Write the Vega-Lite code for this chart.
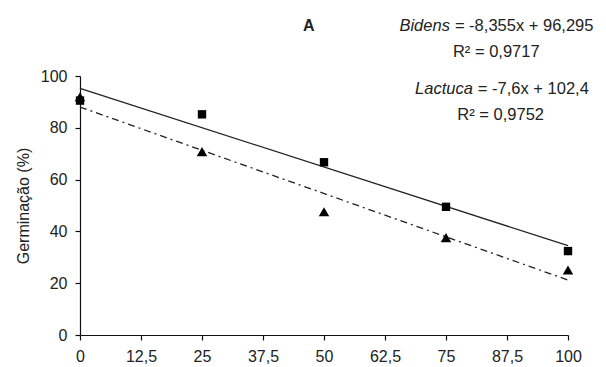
{
  "$schema": "https://vega.github.io/schema/vega-lite/v6.json",
  "width": 488,
  "height": 259,
  "autosize": "none",
  "padding": {"left": 80, "top": 76, "right": 38, "bottom": 32},
  "background": "white",
  "config": {
    "font": "Liberation Sans",
    "view": {"stroke": null},
    "axis": {
      "grid": false,
      "domainColor": "#111",
      "tickColor": "#111",
      "labelColor": "#222",
      "titleColor": "#222",
      "labelFont": "Liberation Sans",
      "titleFont": "Liberation Sans",
      "labelFontSize": 16,
      "titleFontSize": 16,
      "titleFontWeight": "normal",
      "tickSize": 5,
      "domainWidth": 1.2,
      "tickWidth": 1.2
    }
  },
  "datasets": {
    "germ": [
      {"species": "Bidens", "conc": 0, "germ": 90.5},
      {"species": "Bidens", "conc": 25, "germ": 85.2},
      {"species": "Bidens", "conc": 50, "germ": 66.7},
      {"species": "Bidens", "conc": 75, "germ": 49.5},
      {"species": "Bidens", "conc": 100, "germ": 32.4},
      {"species": "Lactuca", "conc": 0, "germ": 92.0},
      {"species": "Lactuca", "conc": 25, "germ": 70.8},
      {"species": "Lactuca", "conc": 50, "germ": 47.6},
      {"species": "Lactuca", "conc": 75, "germ": 37.6},
      {"species": "Lactuca", "conc": 100, "germ": 25.1}
    ],
    "notes": [
      {"part": "panel", "t": "A", "conc": 46.9, "germ": 119.4},
      {"part": "name", "t": "Bidens", "conc": 75.8, "germ": 119.4},
      {"part": "eq", "t": "= -8,355x + 96,295", "conc": 75.8, "germ": 119.4},
      {"part": "r2", "t": "R² = 0,9717", "conc": 85.3, "germ": 109.2},
      {"part": "name", "t": "Lactuca", "conc": 80.5, "germ": 95.0},
      {"part": "eq", "t": "= -7,6x + 102,4", "conc": 80.5, "germ": 95.0},
      {"part": "r2", "t": "R² = 0,9752", "conc": 86.2, "germ": 85.0}
    ]
  },
  "data": {"name": "germ"},
  "encoding": {
    "x": {
      "field": "conc",
      "type": "quantitative",
      "scale": {"domain": [0, 100], "nice": false},
      "axis": {
        "title": null,
        "values": [0, 12.5, 25, 37.5, 50, 62.5, 75, 87.5, 100],
        "labelExpr": "replace(toString(datum.value), '.', ',')",
        "labelPadding": 8,
        "labelFlush": false
      }
    },
    "y": {
      "field": "germ",
      "type": "quantitative",
      "scale": {"domain": [0, 100], "nice": false},
      "axis": {
        "title": "Germinação (%)",
        "values": [0, 20, 40, 60, 80, 100],
        "labelPadding": 8,
        "titlePadding": 9
      }
    }
  },
  "layer": [
    {
      "transform": [
        {"filter": "datum.species === 'Bidens'"},
        {"regression": "germ", "on": "conc", "extent": [0, 100]}
      ],
      "mark": {"type": "line", "color": "#222", "strokeWidth": 1.3}
    },
    {
      "transform": [
        {"filter": "datum.species === 'Lactuca'"},
        {"regression": "germ", "on": "conc", "extent": [0, 100]}
      ],
      "mark": {"type": "line", "color": "#222", "strokeWidth": 1.3, "strokeDash": [7, 4, 2, 4]}
    },
    {
      "mark": {"type": "point", "filled": true, "color": "#000", "opacity": 1},
      "encoding": {
        "shape": {
          "field": "species",
          "type": "nominal",
          "scale": {"domain": ["Bidens", "Lactuca"], "range": ["square", "triangle-up"]},
          "legend": null
        },
        "size": {
          "field": "species",
          "type": "nominal",
          "scale": {"type": "ordinal", "domain": ["Bidens", "Lactuca"], "range": [70, 110]},
          "legend": null
        }
      }
    },
    {
      "data": {"name": "notes"},
      "transform": [{"filter": "datum.part === 'panel'"}],
      "mark": {"type": "text", "fontSize": 16, "fontWeight": "bold", "align": "center", "baseline": "middle", "color": "#222", "clip": false},
      "encoding": {"text": {"field": "t"}}
    },
    {
      "data": {"name": "notes"},
      "transform": [{"filter": "datum.part === 'name'"}],
      "mark": {"type": "text", "fontSize": 16.5, "fontStyle": "italic", "align": "right", "baseline": "middle", "color": "#222", "clip": false},
      "encoding": {"text": {"field": "t"}}
    },
    {
      "data": {"name": "notes"},
      "transform": [{"filter": "datum.part === 'eq'"}],
      "mark": {"type": "text", "fontSize": 16.5, "align": "left", "baseline": "middle", "dx": 5, "color": "#222", "clip": false},
      "encoding": {"text": {"field": "t"}}
    },
    {
      "data": {"name": "notes"},
      "transform": [{"filter": "datum.part === 'r2'"}],
      "mark": {"type": "text", "fontSize": 16.5, "align": "center", "baseline": "middle", "color": "#222", "clip": false},
      "encoding": {"text": {"field": "t"}}
    }
  ]
}
